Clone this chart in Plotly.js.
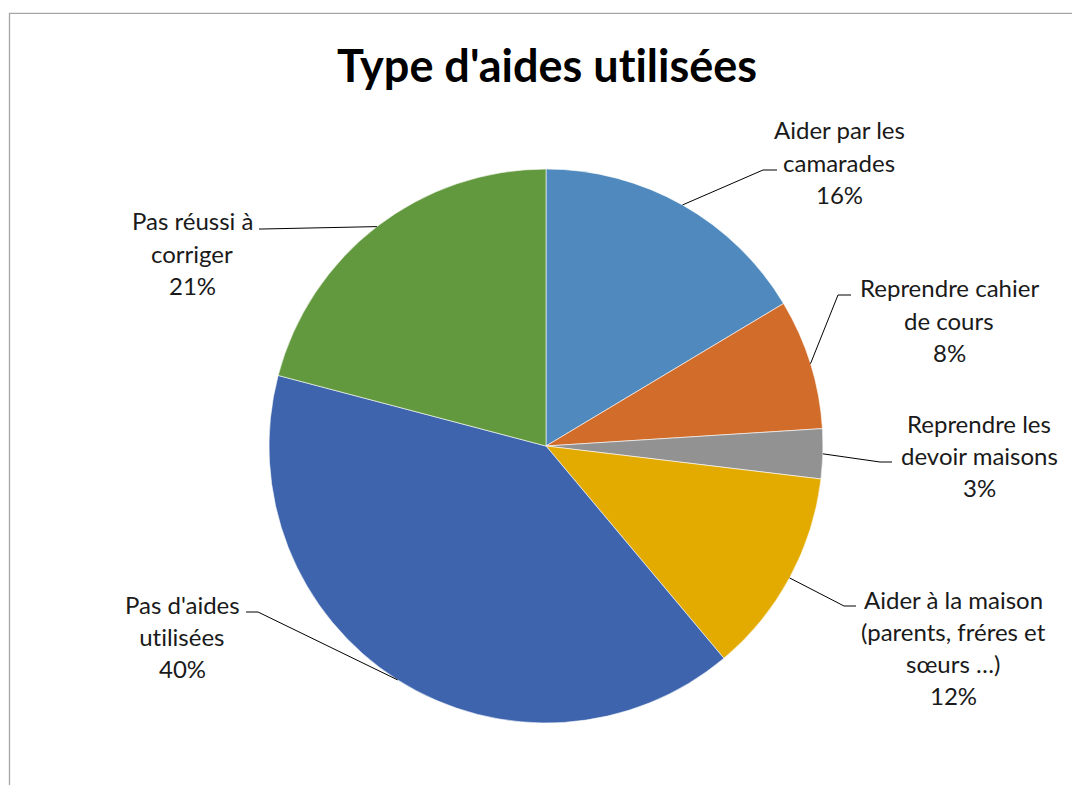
<!DOCTYPE html>
<html>
<head>
<meta charset="utf-8">
<script src="https://cdn.plot.ly/plotly-3.0.1.min.js"></script>
<style>
html,body{margin:0;padding:0;background:#fff;}
#chart{width:1072px;height:785px;}
#chart text{font-variant-ligatures:none;font-feature-settings:"liga" 0;}
</style>
</head>
<body>
<div id="chart"></div>
<script>
// ---- data ----
const categories = [
  "Aider par les<br>camarades",
  "Reprendre cahier<br>de cours",
  "Reprendre les<br>devoir maisons",
  "Aider à la maison<br>(parents, fréres et<br>sœurs …)",
  "Pas d'aides<br>utilisées",
  "Pas réussi à<br>corriger"
];
const values = [16.4, 7.6, 2.9, 12.0, 40.2, 20.9];
const colors = ["#4F89BD", "#D26C2A", "#929292", "#E3AA00", "#3D64AD", "#63993E"];
const titleText = "Type d'aides utilisées";

// ---- layout config (pixel positions of label blocks & leader elbows) ----
const W = 1072, H = 785;
const cx = 546, cy = 446, R = 277;
const labelCenterX = [839, 949, 979, 953, 182, 192];
const labelFirstLineY = [130, 288, 423, 599, 604, 221];
const elbowX = [763, 838, 880, 844, 258, 262];
const elbowY = [170, 295, 462, 606, 612, 229];
const endX = [777, 851, 892, 856, 246, 259];
const lineGap = 32.3;
const FONT = "Lato, 'Open Sans', sans-serif";

const total = values.reduce((a, b) => a + b, 0);
const px = x => x / W;
const py = y => 1 - y / H;

const annotations = [];
const shapes = [];
let cum = 0;
values.forEach((v, i) => {
  const mid = (cum + v / 2) / total * 2 * Math.PI;
  cum += v;
  const tipX = cx + R * Math.sin(mid);
  const tipY = cy - R * Math.cos(mid);
  const pct = Math.round(v / total * 100) + "%";
  const lines = categories[i].split("<br>").concat([pct]);
  lines.forEach((ln, k) => {
    annotations.push({
      text: ln, showarrow: false, xref: "paper", yref: "paper",
      x: px(labelCenterX[i]), y: py(labelFirstLineY[i] + k * lineGap),
      xanchor: "center", yanchor: "middle",
      font: {family: FONT, size: 24, color: "#1a1a1a"}
    });
  });
  shapes.push({type: "line", xref: "paper", yref: "paper",
    x0: px(tipX), y0: py(tipY), x1: px(elbowX[i]), y1: py(elbowY[i]),
    line: {color: "#000", width: 1}});
  shapes.push({type: "line", xref: "paper", yref: "paper",
    x0: px(elbowX[i]), y0: py(elbowY[i]), x1: px(endX[i]), y1: py(elbowY[i]),
    line: {color: "#000", width: 1}});
});

// chart border
shapes.push({type: "rect", xref: "paper", yref: "paper",
  x0: px(9.5), y0: -0.05, x1: 1.05, y1: py(13.3),
  line: {color: "#A6A6A6", width: 1.3}, fillcolor: "rgba(0,0,0,0)", layer: "below"});

const trace = {
  type: "pie",
  labels: categories,
  values: values,
  sort: false,
  direction: "clockwise",
  rotation: 0,
  textinfo: "none",
  hoverinfo: "none",
  marker: {colors: colors, line: {color: "#ffffff", width: 0.6}},
  domain: {x: [px(cx - R), px(cx + R)], y: [py(cy + R), py(cy - R)]},
  showlegend: false
};

const layout = {
  width: W, height: H,
  margin: {l: 0, r: 0, t: 0, b: 0},
  paper_bgcolor: "#ffffff",
  showlegend: false,
  title: {text: "<b>" + titleText + "</b>", x: px(547), xanchor: "center", xref: "paper",
    y: py(66), yanchor: "middle", yref: "paper",
    font: {family: FONT, size: 45, color: "#000"}},
  annotations: annotations,
  shapes: shapes
};

Plotly.newPlot("chart", [trace], layout, {staticPlot: true, displayModeBar: false});
</script>
</body>
</html>
